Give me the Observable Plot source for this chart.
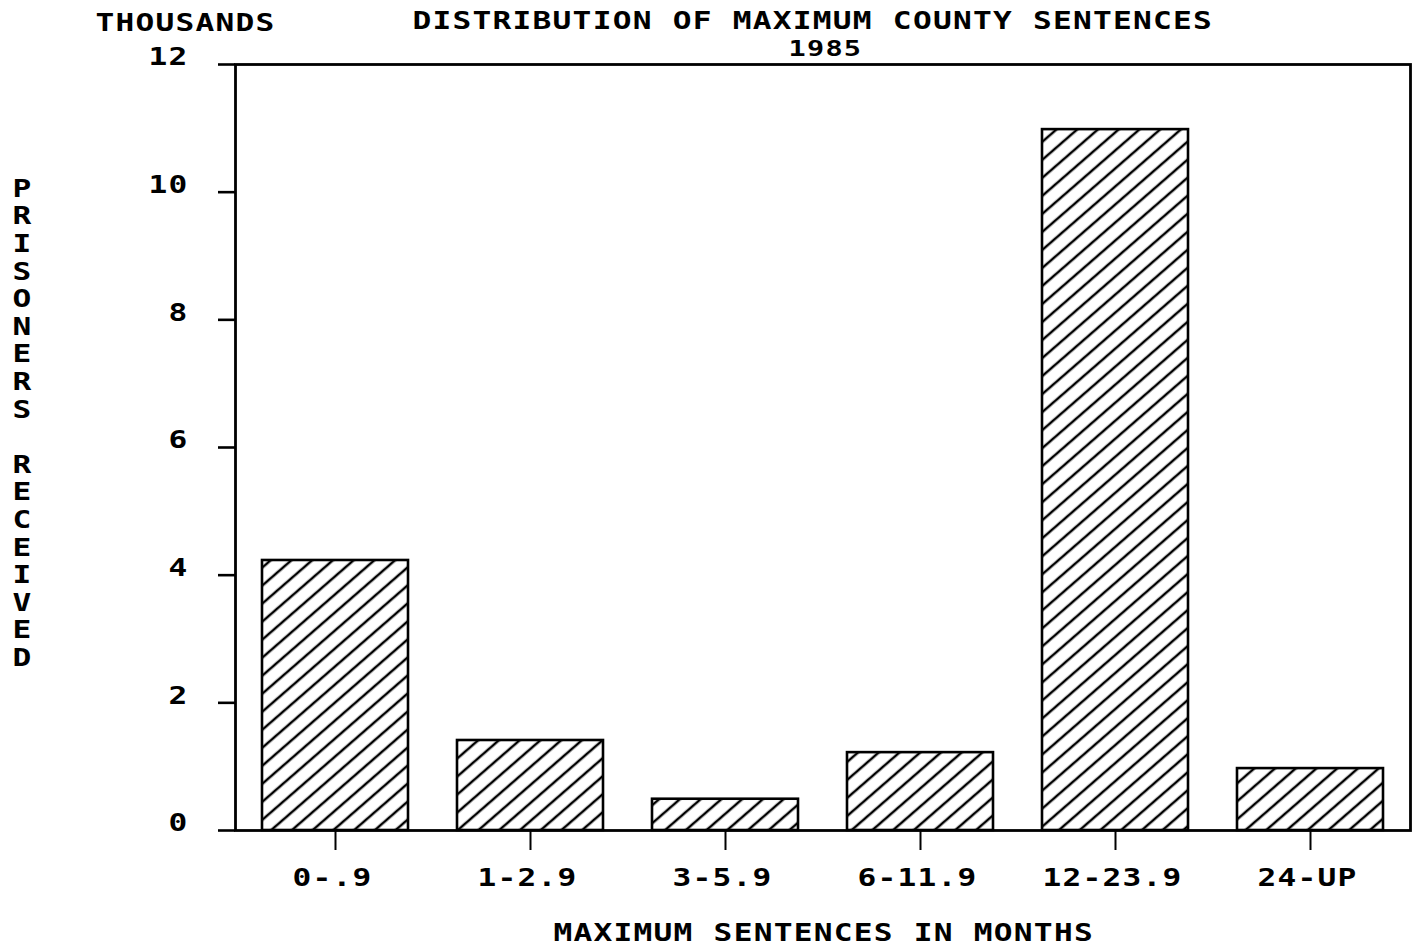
<!DOCTYPE html>
<html>
<head>
<meta charset="utf-8">
<script src="https://cdn.jsdelivr.net/npm/d3@7"></script>
<script src="https://cdn.jsdelivr.net/npm/@observablehq/plot@0.6"></script>
<style>
  html, body { margin: 0; padding: 0; background: #ffffff; }
</style>
</head>
<body>
<div id="chart"></div>
<script>
// Data (thousands of prisoners received, by maximum sentence in months)
const categories = ["0-.9", "1-2.9", "3-5.9", "6-11.9", "12-23.9", "24-UP"];
const prisoners = [4.23, 1.41, 0.49, 1.22, 10.98, 0.97];
const yTicks = [0, 2, 4, 6, 8, 10, 12];

const titleText = "DISTRIBUTION OF MAXIMUM COUNTY SENTENCES";
const yearText = "1985";
const unitText = "THOUSANDS";
const yLabelText = "PRISONERS RECEIVED";
const xLabelText = "MAXIMUM SENTENCES IN MONTHS";

const rows = categories.map((c, i) => ({category: c, value: prisoners[i]}));
const stackedYLabel = yLabelText.split("").map(ch => ch === " " ? "" : ch).join("\n");

const STRETCH = 1.3; // plotter lettering is wider than a regular monospace face

const chart = Plot.plot({
  width: 1418,
  height: 948,
  marginTop: 64,
  marginBottom: 118,
  marginLeft: 235,
  marginRight: 8,
  style: {
    fontFamily: "'DejaVu Sans Mono', monospace",
    fontSize: "24px",
    fontWeight: "bold",
    letterSpacing: "0.95px",
    background: "#ffffff",
    color: "#000000",
    overflow: "visible"
  },
  x: {type: "band", domain: categories, paddingInner: 0.25, paddingOuter: 0.125, label: null},
  y: {domain: [0, 12], label: null},
  marks: [
    Plot.barY(rows, {
      x: "category", y: "value",
      fill: "url(#hatch)", stroke: "#000", strokeWidth: 2.6,
      insetLeft: 0, insetRight: 0
    }),
    Plot.frame({stroke: "#000", strokeWidth: 2.8}),
    // y ticks (lines only)
    Plot.axisY(yTicks, {tickSize: 17, strokeWidth: 2.6, tickFormat: () => "", label: null}),
    // y tick labels, raised slightly above their ticks as in the plotter output
    Plot.axisY(yTicks, {tickSize: 0, tickPadding: 47, dy: -7, tickFormat: d => String(d), label: null}),
    // x ticks
    Plot.axisX({tickSize: 20, strokeWidth: 2, tickFormat: () => "", label: null}),
    // x tick labels
    Plot.axisX({tickSize: 0, tickPadding: 38, dx: -3, label: null}),
    // titles and axis labels
    Plot.text([titleText], {text: d => d, frameAnchor: "top-left", textAnchor: "start", lineAnchor: "middle", dx: 177, dy: -43}),
    Plot.text([yearText], {text: d => d, frameAnchor: "top-left", textAnchor: "start", lineAnchor: "middle", fontSize: 22, dx: 553, dy: -16}),
    Plot.text([unitText], {text: d => d, frameAnchor: "top-left", textAnchor: "start", lineAnchor: "middle", dx: -140, dy: -41}),
    Plot.text([xLabelText], {text: d => d, frameAnchor: "bottom-left", textAnchor: "start", lineAnchor: "middle", dx: 318, dy: 103}),
    Plot.text([stackedYLabel], {text: d => d, frameAnchor: "left", textAnchor: "middle", lineAnchor: "middle", lineHeight: 1.15, dx: -213, dy: -25})
  ]
});

// Stretch every text horizontally about its own anchor point
d3.select(chart).selectAll("text").each(function() {
  const el = this;
  let x0 = parseFloat(el.getAttribute("x"));
  if (!isFinite(x0)) x0 = 0;
  const t = el.getAttribute("transform") || "";
  el.setAttribute("transform",
    `${t} translate(${x0},0) scale(${STRETCH},1) translate(${-x0},0)`.trim());
});

// Hatch pattern definition for the bars
const ns = "http://www.w3.org/2000/svg";
const defs = document.createElementNS(ns, "defs");
const pattern = document.createElementNS(ns, "pattern");
pattern.setAttribute("id", "hatch");
pattern.setAttribute("patternUnits", "userSpaceOnUse");
pattern.setAttribute("width", "13.6");
pattern.setAttribute("height", "13.6");
pattern.setAttribute("patternTransform", "rotate(49)");
const line = document.createElementNS(ns, "line");
line.setAttribute("x1", "2"); line.setAttribute("y1", "-2");
line.setAttribute("x2", "2"); line.setAttribute("y2", "16");
line.setAttribute("stroke", "#000");
line.setAttribute("stroke-width", "2.5");
pattern.appendChild(line);
defs.appendChild(pattern);
chart.insertBefore(defs, chart.firstChild);

document.getElementById("chart").appendChild(chart);
</script>
</body>
</html>
